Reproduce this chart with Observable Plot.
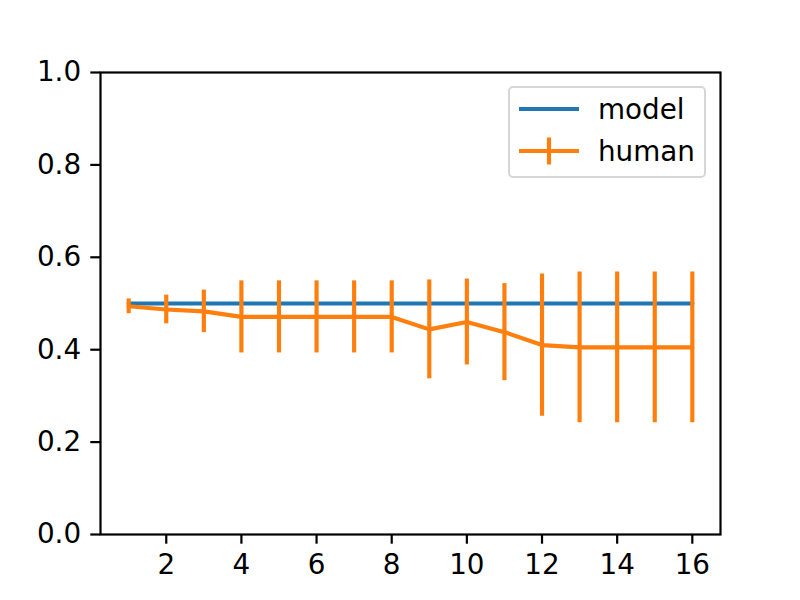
<!DOCTYPE html>
<html>
<head>
<meta charset="utf-8">
<script src="https://cdn.jsdelivr.net/npm/d3@7"></script>
<script src="https://cdn.jsdelivr.net/npm/@observablehq/plot@0.6"></script>
<style>
  html, body { margin: 0; padding: 0; background: #fff; }
  #wrap { position: relative; width: 800px; height: 600px; font-family: "DejaVu Sans", sans-serif; }
  #legend { position: absolute; left: 508px; top: 86px; width: 198px; height: 92px;
    border: 2.6px solid #d6d6d6; border-radius: 5px; background: rgba(255,255,255,0.8); box-sizing: border-box; }
  .item { position: absolute; left: 8px; height: 30px; line-height: 30px; font-size: 27.8px; color: #000; white-space: nowrap; }
  .item svg { position: absolute; left: 0; top: 0; }
  .item span { position: absolute; left: 80px; top: 1px; }
</style>
</head>
<body>
<div id="wrap"><div id="chart"></div>
<div id="legend">
  <div class="item" style="top:6px"><svg width="62" height="30"><line x1="1" x2="61" y1="15" y2="15" stroke="#1f77b4" stroke-width="4.17"/></svg><span>model</span></div>
  <div class="item" style="top:48px"><svg width="62" height="30"><line x1="1" x2="61" y1="15" y2="15" stroke="#ff7f0e" stroke-width="4.17"/><line x1="31" x2="31" y1="1.5" y2="28.5" stroke="#ff7f0e" stroke-width="4.17"/></svg><span>human</span></div>
</div>
</div>
<script>
const steps = [1,2,3,4,5,6,7,8,9,10,11,12,13,14,15,16];
const modelValues = [0.5,0.5,0.5,0.5,0.5,0.5,0.5,0.5,0.5,0.5,0.5,0.5,0.5,0.5,0.5,0.5];
const humanValues = [0.494,0.487,0.483,0.471,0.471,0.471,0.471,0.471,0.444,0.46,0.438,0.41,0.405,0.405,0.405,0.405];
const humanErrors = [0.016,0.031,0.046,0.078,0.078,0.078,0.078,0.078,0.107,0.093,0.105,0.154,0.163,0.163,0.163,0.163];
const xTicks = [2,4,6,8,10,12,14,16];
const yTicks = [0,0.2,0.4,0.6,0.8,1.0];

const model = steps.map((s,i) => ({x: s, y: modelValues[i]}));
const human = steps.map((s,i) => ({x: s, y: humanValues[i], lo: humanValues[i]-humanErrors[i], hi: humanValues[i]+humanErrors[i]}));

const chart = Plot.plot({
  width: 800, height: 600,
  marginLeft: 100, marginRight: 80, marginTop: 72, marginBottom: 66,
  style: {fontFamily: "DejaVu Sans", fontSize: "27.8px", color: "#000", background: "#fff", overflow: "visible"},
  x: {domain: [0.25, 16.75], label: null},
  y: {domain: [0, 1], label: null},
  marks: [
    Plot.axisX({ticks: xTicks, tickSize: 9.7, tickPadding: 9.7, tickFormat: d => String(d), label: null, fontSize: "27.8px", stroke: "#000", strokeWidth: 2.2, strokeOpacity: 1}),
    Plot.axisY({ticks: yTicks, tickSize: 9.7, tickPadding: 9.7, tickFormat: d => d.toFixed(1), label: null, fontSize: "27.8px", stroke: "#000", strokeWidth: 2.2, strokeOpacity: 1}),
    Plot.line(model, {x: "x", y: "y", stroke: "#1f77b4", strokeWidth: 4.17}),
    Plot.line(human, {x: "x", y: "y", stroke: "#ff7f0e", strokeWidth: 4.17}),
    Plot.ruleX(human, {x: "x", y1: "lo", y2: "hi", stroke: "#ff7f0e", strokeWidth: 4.17}),
    Plot.frame({stroke: "#000", strokeWidth: 2.2})
  ]
});
document.getElementById("chart").appendChild(chart);
</script>
</body>
</html>
